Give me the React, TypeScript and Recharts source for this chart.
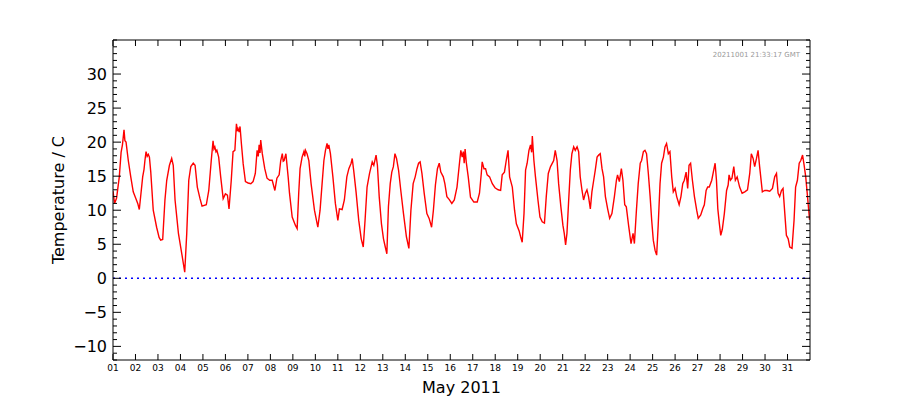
import { LineChart, Line, XAxis, YAxis, ReferenceLine } from 'recharts'

// [day of May (fractional), temperature °C]
const WEEK_1: [number, number][] = [
  [1.0, 12.8], [1.07, 11.0], [1.16, 11.8], [1.28, 14.9], [1.36, 18.5], [1.42, 19.6], [1.49, 21.8], [1.53, 20.2],
  [1.58, 20.0], [1.68, 17.3], [1.79, 14.9], [1.9, 12.7], [2.02, 11.7], [2.1, 11.0], [2.17, 10.1], [2.32, 14.9],
  [2.38, 16.0], [2.42, 17.3], [2.47, 18.6], [2.52, 17.9], [2.57, 18.2], [2.62, 17.8], [2.68, 15.6], [2.79, 10.0],
  [2.94, 7.5], [3.05, 6.0], [3.12, 5.6], [3.21, 5.7], [3.31, 11.5], [3.39, 14.4], [3.51, 16.6], [3.61, 17.6],
  [3.68, 16.6], [3.76, 11.5], [3.91, 6.6], [4.06, 3.6], [4.19, 0.9], [4.28, 6.6], [4.37, 14.4], [4.46, 16.4],
  [4.57, 16.9], [4.65, 16.6], [4.75, 13.4], [4.87, 11.7], [4.96, 10.6], [5.15, 10.8], [5.26, 12.9], [5.37, 17.3],
  [5.45, 20.2], [5.49, 19.0], [5.53, 19.3], [5.58, 18.6], [5.62, 18.8], [5.7, 17.8], [5.79, 14.9], [5.9, 11.7],
  [6.0, 12.4], [6.09, 12.2], [6.16, 10.2], [6.26, 14.4], [6.34, 18.6], [6.42, 18.8], [6.49, 22.7], [6.53, 21.8],
  [6.56, 22.0], [6.61, 21.5], [6.65, 22.3], [6.71, 19.8], [6.79, 16.8], [6.89, 14.2], [7.01, 14.0], [7.13, 13.9],
  [7.23, 14.2], [7.33, 15.4], [7.41, 18.8], [7.46, 17.9], [7.5, 19.6], [7.54, 18.4], [7.57, 20.3], [7.64, 18.3],
  [7.75, 16.1], [7.85, 14.7], [7.97, 14.4],
]

const WEEK_2: [number, number][] = [
  [8.08, 14.4], [8.2, 12.9], [8.29, 14.7], [8.39, 15.2], [8.46, 17.3], [8.53, 18.3], [8.57, 17.2], [8.61, 17.3],
  [8.69, 18.3], [8.79, 14.9], [8.85, 12.5], [8.97, 9.0], [9.11, 7.8], [9.19, 7.3], [9.26, 12.5], [9.32, 16.1],
  [9.41, 17.8], [9.49, 18.6], [9.53, 17.9], [9.56, 18.8], [9.63, 18.3], [9.71, 17.3], [9.81, 13.9], [9.96, 10.0],
  [10.11, 7.5], [10.21, 10.0], [10.3, 13.9], [10.38, 17.3], [10.45, 18.8], [10.52, 19.8], [10.56, 19.0], [10.6, 19.6],
  [10.67, 18.3], [10.78, 14.9], [10.89, 11.0], [11.0, 8.5], [11.07, 10.2], [11.19, 10.1], [11.29, 11.5], [11.4, 14.9],
  [11.49, 16.1], [11.59, 16.9], [11.64, 17.6], [11.71, 15.7], [11.81, 12.7], [11.93, 8.5], [12.04, 5.8], [12.13, 4.6],
  [12.21, 8.5], [12.3, 13.4], [12.41, 15.4], [12.53, 17.1], [12.6, 16.6], [12.7, 18.1], [12.76, 16.6], [12.84, 12.0],
  [12.94, 8.0], [13.03, 5.8], [13.11, 4.6], [13.18, 3.6], [13.25, 10.5], [13.33, 13.9], [13.4, 15.6], [13.47, 16.4],
  [13.54, 18.3], [13.61, 17.6], [13.7, 15.9], [13.8, 12.9], [13.92, 9.5], [14.05, 6.1], [14.16, 4.4], [14.25, 10.0],
  [14.35, 13.9], [14.44, 14.9], [14.52, 16.1], [14.59, 16.9], [14.66, 17.1], [14.74, 15.4], [14.84, 12.5], [14.96, 9.5],
]

const WEEK_3: [number, number][] = [
  [15.06, 8.8], [15.17, 7.5], [15.25, 10.0], [15.34, 13.7], [15.43, 16.1], [15.51, 16.9], [15.58, 15.6], [15.69, 14.9],
  [15.76, 13.9], [15.85, 12.0], [15.95, 11.6], [16.07, 11.0], [16.18, 11.5], [16.3, 13.4], [16.4, 16.6], [16.47, 18.8],
  [16.53, 17.8], [16.58, 18.6], [16.62, 16.9], [16.66, 19.0], [16.71, 17.1], [16.8, 14.9], [16.9, 11.9], [17.05, 11.2],
  [17.2, 11.2], [17.3, 12.5], [17.38, 15.4], [17.42, 17.1], [17.5, 16.1], [17.57, 16.1], [17.64, 15.2], [17.75, 14.9],
  [17.87, 13.9], [17.99, 13.3], [18.13, 13.0], [18.24, 12.9], [18.31, 15.2], [18.41, 15.6], [18.49, 17.3], [18.57, 18.8],
  [18.64, 14.9], [18.76, 13.4], [18.86, 10.0], [18.94, 8.0], [19.06, 7.0], [19.13, 6.1], [19.2, 5.3], [19.28, 9.5],
  [19.35, 15.9], [19.42, 16.9], [19.5, 18.8], [19.57, 19.6], [19.62, 18.5], [19.65, 20.9], [19.72, 17.3], [19.79, 14.9],
  [19.9, 11.5], [19.99, 9.0], [20.09, 8.3], [20.19, 8.1], [20.27, 12.0], [20.36, 15.4], [20.46, 16.4], [20.57, 17.1],
  [20.6, 17.3], [20.67, 18.8], [20.75, 17.3], [20.82, 13.9], [20.92, 10.5], [21.01, 7.8], [21.07, 6.6], [21.13, 4.9],
  [21.19, 6.6], [21.26, 11.0], [21.34, 15.9], [21.41, 18.3], [21.49, 19.3], [21.56, 18.8], [21.64, 19.3], [21.71, 18.6],
  [21.78, 14.9], [21.86, 12.9], [21.93, 11.5],
]

const WEEK_4: [number, number][] = [
  [22.01, 12.5], [22.08, 13.0], [22.15, 12.0], [22.23, 10.2], [22.3, 12.7], [22.38, 14.4], [22.45, 15.9], [22.53, 17.8],
  [22.6, 18.1], [22.67, 18.3], [22.75, 16.1], [22.82, 14.9], [22.9, 12.0], [23.0, 10.2], [23.09, 8.8], [23.19, 9.5],
  [23.3, 12.0], [23.39, 14.4], [23.44, 15.2], [23.52, 14.2], [23.61, 16.1], [23.68, 14.4], [23.76, 10.8], [23.83, 10.5],
  [23.93, 7.8], [24.04, 5.1], [24.13, 6.6], [24.19, 5.1], [24.28, 10.0], [24.36, 13.9], [24.45, 16.9], [24.51, 17.3],
  [24.59, 18.6], [24.66, 18.8], [24.73, 18.3], [24.81, 15.4], [24.89, 12.0], [24.96, 8.5], [25.03, 5.6], [25.11, 4.1],
  [25.18, 3.4], [25.25, 7.9], [25.33, 13.9], [25.4, 16.9], [25.48, 17.8], [25.55, 19.3], [25.62, 19.8], [25.7, 18.3],
  [25.77, 18.6], [25.85, 14.9], [25.92, 12.7], [26.0, 13.2], [26.07, 12.0], [26.18, 10.8], [26.26, 12.0], [26.34, 13.9],
  [26.41, 14.4], [26.49, 15.6], [26.56, 13.2], [26.62, 16.6], [26.69, 16.9], [26.77, 14.4], [26.86, 12.0], [26.96, 10.0],
  [27.03, 8.8], [27.14, 9.3], [27.23, 10.2], [27.3, 10.8], [27.38, 12.9], [27.45, 13.4], [27.52, 13.4], [27.63, 14.4],
  [27.7, 15.6], [27.78, 16.9], [27.84, 14.4], [27.9, 10.2], [27.97, 8.0], [28.03, 6.3], [28.1, 7.2], [28.19, 9.5],
  [28.29, 12.9], [28.36, 13.7], [28.4, 15.2], [28.46, 14.4], [28.53, 14.7], [28.61, 16.4], [28.68, 14.4], [28.76, 14.9],
  [28.87, 13.4], [28.98, 12.5],
]

const WEEK_5: [number, number][] = [
  [29.1, 12.7], [29.22, 13.0], [29.32, 15.4], [29.39, 18.3], [29.47, 17.6], [29.54, 16.4], [29.62, 17.6], [29.69, 18.8],
  [29.76, 16.4], [29.88, 12.7], [29.99, 12.9], [30.09, 12.9], [30.21, 12.8], [30.33, 13.2], [30.43, 14.9], [30.51, 15.4],
  [30.58, 12.5], [30.65, 12.0], [30.73, 12.9], [30.8, 13.2], [30.88, 9.5], [30.95, 6.3], [31.03, 5.8], [31.1, 4.6],
  [31.2, 4.4], [31.29, 8.5], [31.36, 13.4], [31.44, 14.4], [31.52, 16.9], [31.59, 17.3], [31.67, 18.1], [31.74, 16.6],
  [31.81, 14.9], [31.89, 12.0], [31.98, 8.6],
]

const DAY_TICKS = [1, 2, 3, 4, 5, 6, 7, 8, 9, 10, 11, 12, 13, 14, 15, 16, 17, 18, 19, 20, 21, 22, 23, 24, 25, 26, 27, 28, 29, 30, 31]
const TEMP_TICKS = [
  -12, -11, -10, -9, -8, -7, -6, -5, -4, -3, -2, -1, 0, 1, 2, 3, 4, 5, 6, 7, 8, 9, 10, 11,
  12, 13, 14, 15, 16, 17, 18, 19, 20, 21, 22, 23, 24, 25, 26, 27, 28, 29, 30, 31, 32, 33, 34, 35,
]
const TEMP_LABELS = [-10, -5, 0, 5, 10, 15, 20, 25, 30]
const STAMP = '20211001 21:33:17 GMT'

const FONT = '"DejaVu Sans", sans-serif'

const data = [...WEEK_1, ...WEEK_2, ...WEEK_3, ...WEEK_4, ...WEEK_5].map(([d, t]) => ({ d, t }))

const fmtTemp = (v: number) => (v < 0 ? `\u2212${Math.abs(v)}` : String(v))
const fmtDay = (v: number) => String(v).padStart(2, '0')

// ticks point inwards, matplotlib classic style
function LeftTick({ x, y, payload }: any) {
  const v = payload.value as number
  const major = TEMP_LABELS.includes(v)
  return (
    <g>
      <line x1={x} x2={x + (major ? 8 : 4)} y1={y} y2={y} stroke="#000" />
      {major && (
        <text x={x - 6} y={y} textAnchor="end" dominantBaseline="central" fontSize={16} fontFamily={FONT} fill="#000">
          {fmtTemp(v)}
        </text>
      )}
    </g>
  )
}

function RightTick({ x, y, payload }: any) {
  const major = TEMP_LABELS.includes(payload.value)
  return <line x1={x} x2={x - (major ? 8 : 4)} y1={y} y2={y} stroke="#000" />
}

function BottomTick({ x, y, payload }: any) {
  return (
    <g>
      <line x1={x} x2={x} y1={y} y2={y - 6} stroke="#000" />
      <text x={x} y={y + 5} textAnchor="middle" dominantBaseline="hanging" fontSize={9} fontFamily={FONT} fill="#000">
        {fmtDay(payload.value)}
      </text>
    </g>
  )
}

function TopTick({ x, y }: any) {
  return <line x1={x} x2={x} y1={y} y2={y + 6} stroke="#000" />
}

export default function App() {
  return (
    <div style={{ position: 'absolute', left: 0, top: 0, width: 900, height: 400, background: '#fff' }}>
      <LineChart width={900} height={400} data={data} margin={{ top: 39, right: 89, bottom: 0, left: 0 }}>
        <XAxis
          dataKey="d"
          type="number"
          domain={[1, 32]}
          allowDataOverflow
          ticks={DAY_TICKS}
          interval={0}
          height={40}
          tickSize={0}
          tickMargin={0}
          tickLine={false}
          axisLine={{ stroke: '#000' }}
          tick={(p: any) => <BottomTick {...p} />}
          label={{ value: 'May 2011', position: 'insideBottom', offset: 7, style: { fontSize: 16, fontFamily: FONT, fill: '#000' } }}
        />
        <XAxis
          xAxisId="top"
          orientation="top"
          dataKey="d"
          type="number"
          domain={[1, 32]}
          allowDataOverflow
          ticks={DAY_TICKS}
          interval={0}
          height={1}
          tickSize={0}
          tickMargin={0}
          tickLine={false}
          axisLine={{ stroke: '#000' }}
          tick={(p: any) => <TopTick {...p} />}
        />
        <YAxis
          type="number"
          domain={[-12, 35]}
          allowDataOverflow
          ticks={TEMP_TICKS}
          interval={0}
          width={113}
          tickSize={0}
          tickMargin={0}
          tickLine={false}
          axisLine={{ stroke: '#000' }}
          tick={(p: any) => <LeftTick {...p} />}
          label={{
            value: 'Temperature / C',
            angle: -90,
            position: 'insideLeft',
            offset: 58,
            style: { textAnchor: 'middle', fontSize: 16, fontFamily: FONT, fill: '#000' },
          }}
        />
        <YAxis
          yAxisId="right"
          orientation="right"
          type="number"
          domain={[-12, 35]}
          allowDataOverflow
          ticks={TEMP_TICKS}
          interval={0}
          width={1}
          tickSize={0}
          tickMargin={0}
          tickLine={false}
          axisLine={{ stroke: '#000' }}
          tick={(p: any) => <RightTick {...p} />}
        />
        <ReferenceLine y={0} stroke="#0000ff" strokeWidth={1.5} strokeDasharray="2 4" />
        <Line type="linear" dataKey="t" stroke="#ff0000" strokeWidth={1.4} dot={false} isAnimationActive={false} />
        {/* invisible twin so the top/right axes have a series bound to them */}
        <Line xAxisId="top" yAxisId="right" type="linear" dataKey="t" stroke="none" dot={false} activeDot={false} isAnimationActive={false} />
      </LineChart>
      <div
        style={{
          position: 'absolute',
          top: 51,
          right: 100,
          fontSize: 7,
          lineHeight: '8px',
          fontFamily: FONT,
          color: '#999',
          whiteSpace: 'nowrap',
        }}
      >
        {STAMP}
      </div>
    </div>
  )
}
